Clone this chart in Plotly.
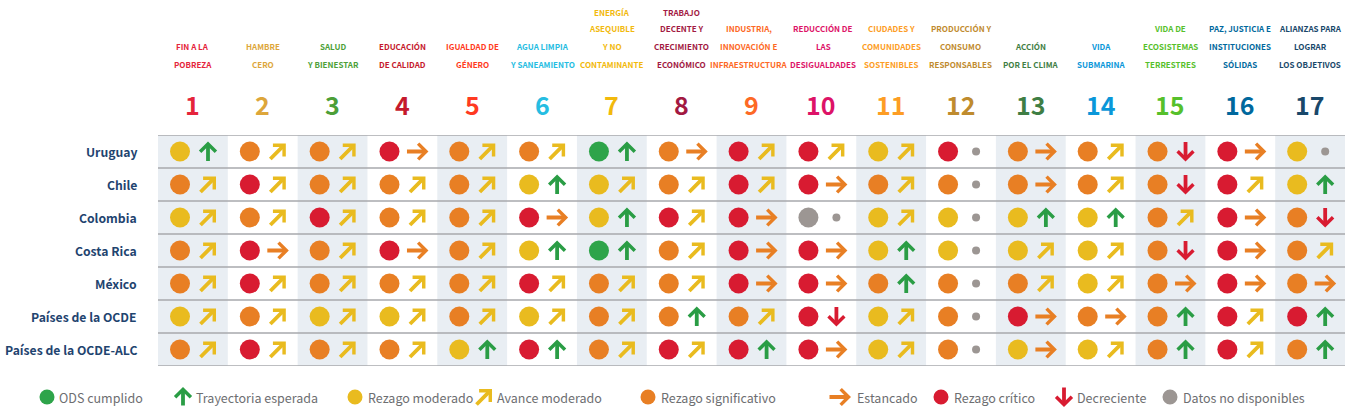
import plotly.graph_objects as go

# ---------------- data ----------------
goal_numbers = [str(i) for i in range(1, 18)]
goal_titles = [
    ["FIN A LA", "POBREZA"],
    ["HAMBRE", "CERO"],
    ["SALUD", "Y BIENESTAR"],
    ["EDUCACIÓN", "DE CALIDAD"],
    ["IGUALDAD DE", "GÉNERO"],
    ["AGUA LIMPIA", "Y SANEAMIENTO"],
    ["ENERGÍA", "ASEQUIBLE", "Y NO", "CONTAMINANTE"],
    ["TRABAJO", "DECENTE Y", "CRECIMIENTO", "ECONÓMICO"],
    ["INDUSTRIA,", "INNOVACIÓN E", "INFRAESTRUCTURA"],
    ["REDUCCIÓN DE", "LAS", "DESIGUALDADES"],
    ["CIUDADES Y", "COMUNIDADES", "SOSTENIBLES"],
    ["PRODUCCIÓN Y", "CONSUMO", "RESPONSABLES"],
    ["ACCIÓN", "POR EL CLIMA"],
    ["VIDA", "SUBMARINA"],
    ["VIDA DE", "ECOSISTEMAS", "TERRESTRES"],
    ["PAZ, JUSTICIA E", "INSTITUCIONES", "SÓLIDAS"],
    ["ALIANZAS PARA", "LOGRAR", "LOS OBJETIVOS"],
]
goal_colors = ["#E5243B", "#DDA63A", "#4C9F38", "#C5192D", "#FF3A21", "#26BDE2",
               "#F2B90C", "#A21942", "#FD6925", "#DD1367", "#FD9D24", "#BF8B2E",
               "#3F7E44", "#0A97D9", "#56C02B", "#00689D", "#19486A"]

countries = ["Uruguay", "Chile", "Colombia", "Costa Rica", "México",
             "Países de la OCDE", "Países de la OCDE-ALC"]

# status: G = ODS cumplido, Y = rezago moderado, O = rezago significativo,
#         R = rezago crítico, N = datos no disponibles
status = [
    "YOOROOGORRYROOORY",
    "OROOOYYORROOOOORY",
    "YOROORYRRNYYYYORO",
    "OROROYGORRYYYYORO",
    "OROOOROORROOOYORO",
    "YOYYOYOOORYOROORR",
    "OROOYRORRRYOYYORO",
]
# trend: U = trayectoria esperada, M = avance moderado, S = estancado,
#        D = decreciente, N = datos no disponibles
trend = [
    "UMMSMMUSMMMNSMDSN",
    "MMMMMUMMMSMNSMDMU",
    "MMMMMSUMSNMNUUMSD",
    "MSMSMUUMSSUNMMDSM",
    "MMMMMMMMSSUNMMSSS",
    "MMMMMMMUMDMNSSUMU",
    "MMMMUUMMUSMNSMUMU",
]

legend_labels = ["ODS cumplido", "Trayectoria esperada", "Rezago moderado", "Avance moderado",
                 "Rezago significativo", "Estancado", "Rezago crítico", "Decreciente",
                 "Datos no disponibles"]

# ---------------- style ----------------
W, H = 1351, 416
GL, GR, GT, GB = 158, 1345, 135, 366
FONT = "Noto Sans CJK SC, Roboto, sans-serif"
status_colors = {"G": "#2ea44a", "Y": "#e9bb1f", "O": "#e87f24", "R": "#d81b31", "N": "#9c9693"}
trend_colors = {"U": "#2a9d45", "M": "#e9bb1f", "S": "#e87f24", "D": "#d81b31", "N": "#9c9693"}
LABEL_COLOR = "#1f446f"
LEGEND_TEXT = "#6d6e71"
HEADER_SHIFT = {8: -3, 9: 2}   # small horizontal nudges (0-based column index)

def px_x(p):
    return p / W

def px_y(p):
    return 1 - p / H

ncol, nrow = len(goal_numbers), len(countries)
col_w = (GR - GL) / ncol
circ_off = (22 - col_w / 2) / col_w
arr_off = (50 - col_w / 2) / col_w

fig = go.Figure()

# circles by status
for code, colr in status_colors.items():
    xs, ys = [], []
    for r in range(nrow):
        for c in range(ncol):
            if status[r][c] == code:
                xs.append(c + 1 + circ_off)
                ys.append(r + 1)
    fig.add_trace(go.Scatter(x=xs, y=ys, mode="markers", hoverinfo="skip",
                             marker=dict(size=20, color=colr, line=dict(width=0)),
                             showlegend=False))

# no-data trend dots
xs, ys = [], []
for r in range(nrow):
    for c in range(ncol):
        if trend[r][c] == "N":
            xs.append(c + 1 + arr_off)
            ys.append(r + 1)
fig.add_trace(go.Scatter(x=xs, y=ys, mode="markers", hoverinfo="skip",
                         marker=dict(size=8, color=trend_colors["N"], line=dict(width=0)),
                         showlegend=False))

# arrow geometry: (xshift, yshift, ax, ay)
ARROW_GEOM = {
    "U": (0, 10, 0, 20),
    "D": (0, -10, 0, -20),
    "S": (11, 0, -22, 0),
    "M": (8, 8, -16, 16),
}

annotations = []

def arrow_ann(x, y, code, xref="x", yref="y"):
    xs_, ys_, ax, ay = ARROW_GEOM[code]
    return dict(x=x, y=y, xref=xref, yref=yref, text="", showarrow=True,
                ax=ax, ay=ay, axref="pixel", ayref="pixel",
                xshift=xs_, yshift=ys_, arrowhead=4, arrowsize=0.8,
                arrowwidth=3.8, arrowcolor=trend_colors[code],
                font=dict(size=1), borderpad=0, standoff=0)

for r in range(nrow):
    for c in range(ncol):
        t = trend[r][c]
        if t != "N":
            annotations.append(arrow_ann(c + 1 + arr_off, r + 1, t))

# column shading and row lines
shapes = []
for c in range(ncol):
    if c % 2 == 0:
        shapes.append(dict(type="rect", xref="x", yref="paper", x0=c + 0.5, x1=c + 1.5,
                           y0=px_y(GB), y1=px_y(GT), fillcolor="#e9eef3",
                           line=dict(width=0), layer="below"))
for r in range(nrow + 1):
    shapes.append(dict(type="line", xref="paper", yref="y", x0=px_x(GL), x1=px_x(GR),
                       y0=r + 0.5, y1=r + 0.5, line=dict(color="#a7a9ac", width=1.6),
                       layer="above"))

# headers
LINE_Y = [64, 46.5, 29, 12]
for c in range(ncol):
    lines = goal_titles[c]
    n = len(lines)
    for i, txt in enumerate(lines):
        py = LINE_Y[n - 1 - i]
        annotations.append(dict(x=c + 1, y=px_y(py), xref="x", yref="paper",
                                text=txt, showarrow=False, xanchor="center", yanchor="middle",
                                xshift=HEADER_SHIFT.get(c, 0),
                                font=dict(family=FONT, size=8, color=goal_colors[c], weight="bold")))
    annotations.append(dict(x=c + 1, y=px_y(104), xref="x", yref="paper",
                            text=goal_numbers[c], showarrow=False, xanchor="center",
                            yanchor="middle",
                            font=dict(family=FONT, size=25, color=goal_colors[c], weight="bold")))

# row labels
for r, name in enumerate(countries):
    annotations.append(dict(x=px_x(139), y=r + 1, xref="paper", yref="y", text=name,
                            showarrow=False, xanchor="right", yanchor="middle",
                            font=dict(family=FONT, size=12.2, color=LABEL_COLOR, weight="bold")))

# legend
LEG_Y = 397
legend_items = [
    ("circle", "G", 47, 57),
    ("arrow", "U", 183, 194),
    ("circle", "Y", 355, 366),
    ("arrow", "M", 484, 495),
    ("circle", "O", 648, 659),
    ("arrow", "S", 840, 855),
    ("circle", "R", 941, 952),
    ("arrow", "D", 1064, 1075),
    ("circle", "N", 1170, 1181),
]
for (kind, code, gx, tx), label in zip(legend_items, legend_labels):
    if kind == "circle":
        colr = status_colors[code]
        shapes.append(dict(type="circle", xref="paper", yref="paper",
                           xsizemode="pixel", ysizemode="pixel",
                           xanchor=px_x(gx), yanchor=px_y(LEG_Y),
                           x0=-7.5, x1=7.5, y0=-7.5, y1=7.5,
                           fillcolor=colr, line=dict(width=0)))
    else:
        annotations.append(arrow_ann(px_x(gx), px_y(LEG_Y), code, xref="paper", yref="paper"))
    annotations.append(dict(x=px_x(tx), y=px_y(LEG_Y), xref="paper", yref="paper",
                            text=label, showarrow=False, xanchor="left", yanchor="middle",
                            font=dict(family=FONT, size=12.5, color=LEGEND_TEXT)))

fig.update_layout(
    width=W, height=H,
    margin=dict(l=0, r=0, t=0, b=0),
    paper_bgcolor="white", plot_bgcolor="white",
    xaxis=dict(domain=[px_x(GL), px_x(GR)], range=[0.5, ncol + 0.5], visible=False,
               fixedrange=True),
    yaxis=dict(domain=[px_y(GB), px_y(GT)], range=[nrow + 0.5, 0.5], visible=False,
               fixedrange=True),
    shapes=shapes,
    annotations=annotations,
    showlegend=False,
)

fig.write_html("out.html", config={"displayModeBar": False},
               post_script="document.body.style.margin='0';document.body.style.overflow='hidden';")
